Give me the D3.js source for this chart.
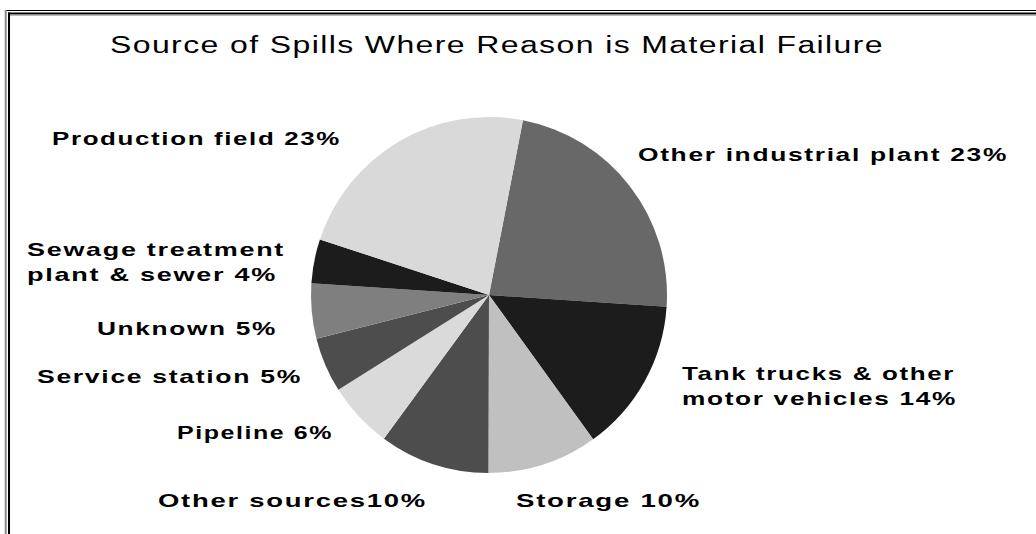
<!DOCTYPE html>
<html>
<head>
<meta charset="utf-8">
<script src="https://cdn.jsdelivr.net/npm/d3@7"></script>
<style>
  html, body { margin: 0; padding: 0; background: #fff; }
  svg { display: block; }
  text { font-family: "Liberation Sans", Arial, Helvetica, sans-serif; fill: #000; }
</style>
</head>
<body>
<svg id="chart" width="1036" height="534"></svg>
<script>
// Spill sources (share of spills, %), clockwise from just right of 12 o'clock
const categories = [
  "Other industrial plant",
  "Tank trucks & other motor vehicles",
  "Storage",
  "Other sources",
  "Pipeline",
  "Service station",
  "Unknown",
  "Sewage treatment plant & sewer",
  "Production field"
];
const values = [23, 14, 10, 10, 6, 5, 5, 4, 23];
const sliceColors = ["#686868", "#1c1c1c", "#c0c0c0", "#4d4d4d", "#dadada", "#4d4d4d", "#7f7f7f", "#1c1c1c", "#d9d9d9"];
const titleText = "Source of Spills Where Reason is Material Failure";

// Label placement: words on the first line, left x, first baseline, rendered width per line
const labelLayout = [
  { words: 0, x: 638, y: 161, w: [370] },
  { words: 4, x: 682, y: 380, w: [273, 275] },
  { words: 0, x: 516, y: 507, w: [185] },
  { words: 0, x: 158, y: 507, w: [269], tight: true },
  { words: 0, x: 177, y: 439, w: [156] },
  { words: 0, x: 37,  y: 383, w: [265] },
  { words: 0, x: 97,  y: 335, w: [180] },
  { words: 2, x: 27,  y: 256, w: [258, 250] },
  { words: 0, x: 52,  y: 145, w: [289] }
];

const svg = d3.select("#chart");

// Double frame along the top and left edges
const frame = svg.append("g").attr("fill", "none");
frame.append("line").attr("x1", 5).attr("x2", 1036).attr("y1", 10.5).attr("y2", 10.5).attr("stroke", "#000").attr("stroke-width", 1);
frame.append("line").attr("x1", 5.7).attr("x2", 5.7).attr("y1", 10).attr("y2", 534).attr("stroke", "#8a8a8a").attr("stroke-width", 2);
frame.append("line").attr("x1", 8).attr("x2", 1036).attr("y1", 13.5).attr("y2", 13.5).attr("stroke", "#000").attr("stroke-width", 2);
frame.append("line").attr("x1", 10).attr("x2", 1036).attr("y1", 15.2).attr("y2", 15.2).attr("stroke", "#9a9a9a").attr("stroke-width", 1);
frame.append("line").attr("x1", 9).attr("x2", 9).attr("y1", 12.5).attr("y2", 534).attr("stroke", "#000").attr("stroke-width", 2);

// Title
svg.append("text")
  .attr("x", 110).attr("y", 53)
  .attr("font-size", 23)
  .attr("letter-spacing", 1)
  .attr("textLength", 774)
  .attr("lengthAdjust", "spacingAndGlyphs")
  .text(titleText);

// Pie
const cx = 489, cy = 295, radius = 178;
const start = 11 * Math.PI / 180;
const pie = d3.pie().sort(null).value(d => d.v).startAngle(start).endAngle(start + 2 * Math.PI);
const arc = d3.arc().innerRadius(0).outerRadius(radius);
const data = categories.map((c, i) => ({ name: c, v: values[i], color: sliceColors[i] }));

svg.append("g")
  .attr("transform", `translate(${cx},${cy})`)
  .selectAll("path")
  .data(pie(data))
  .join("path")
  .attr("d", arc)
  .attr("fill", d => d.data.color);

// Labels: category name followed by its share
function labelLines(d, i) {
  const layout = labelLayout[i];
  const sep = layout.tight ? "" : " ";
  const full = d.name + sep + d.v + "%";
  if (!layout.words) return [full];
  const words = full.split(" ");
  return [words.slice(0, layout.words).join(" "), words.slice(layout.words).join(" ")];
}

const labels = svg.append("g").attr("font-weight", "bold").attr("font-size", 19);
data.forEach((d, i) => {
  const layout = labelLayout[i];
  labelLines(d, i).forEach((line, k) => {
    labels.append("text")
      .attr("x", layout.x)
      .attr("y", layout.y + k * 24.5)
      .attr("letter-spacing", 1.2)
      .attr("textLength", layout.w[k])
      .attr("lengthAdjust", "spacingAndGlyphs")
      .text(line);
  });
});
</script>
</body>
</html>
